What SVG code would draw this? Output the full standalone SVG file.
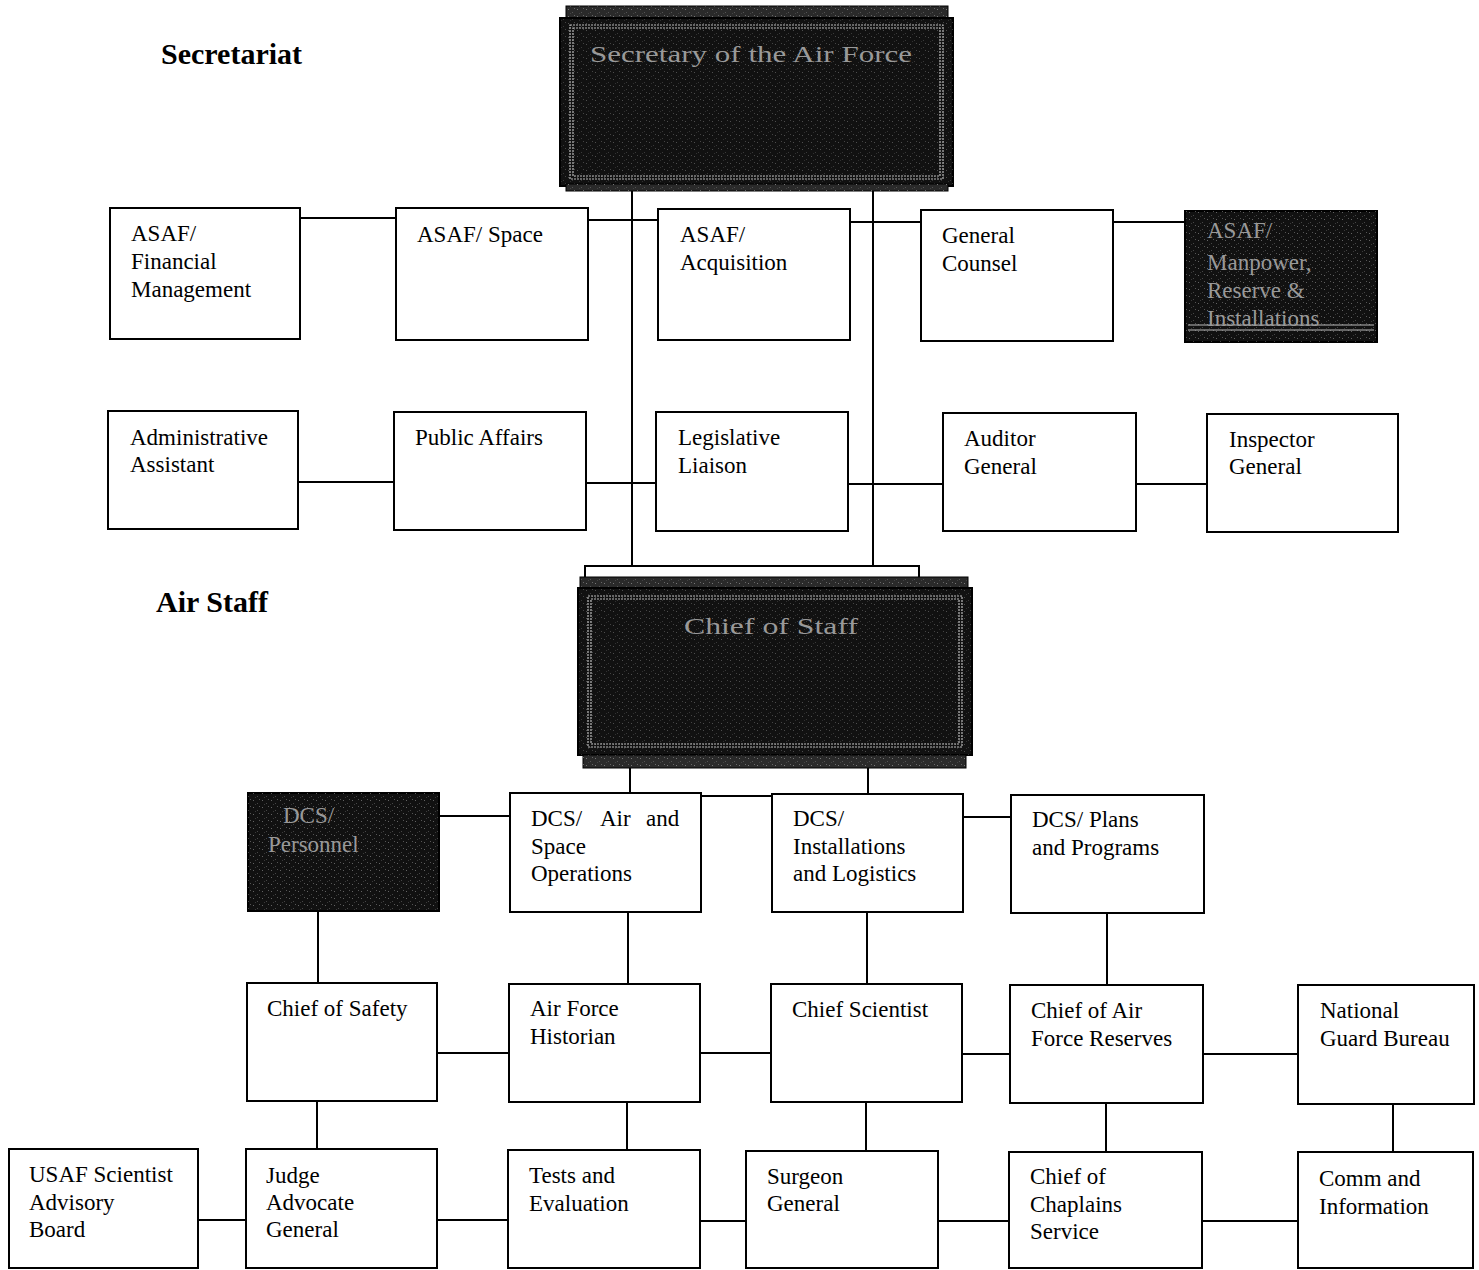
<svg xmlns="http://www.w3.org/2000/svg" width="1479" height="1270" viewBox="0 0 1479 1270">
<style>
.box{fill:#fff;stroke:#000;stroke-width:2}
.t{font-family:"Liberation Serif","Times New Roman",serif;font-size:23px;fill:#000}
.h{font-family:"Liberation Serif","Times New Roman",serif;font-size:30px;font-weight:bold;fill:#000}
.dk{fill:#111;stroke:#000;stroke-width:2}
.grain{fill:url(#grain)}
.stripe{fill:#2a2a2a;stroke:#000;stroke-width:1}
.inner{fill:none;stroke:#bbb;stroke-width:1.2;stroke-dasharray:2 1}
.dt{font-family:"Liberation Serif","Times New Roman",serif;font-size:23px;fill:#999}
.c{fill:none;stroke:#000;stroke-width:2}
</style>
<defs>
<pattern id="grain" width="9" height="7" patternUnits="userSpaceOnUse">
<rect x="1" y="2" width="1" height="1" fill="#777"/>
<rect x="5" y="5" width="1" height="1" fill="#555"/>
<rect x="7" y="1" width="1" height="1" fill="#666"/>
<rect x="3" y="6" width="1" height="1" fill="#444"/>
</pattern>
</defs>
<rect width="1479" height="1270" fill="#fff"/>

<text class="h" x="161" y="64">Secretariat</text>
<text class="h" x="156" y="612">Air Staff</text>

<g id="connectors">
<line class="c" x1="632" y1="190" x2="632" y2="566"/>
<line class="c" x1="873" y1="190" x2="873" y2="566"/>
<line class="c" x1="300" y1="218" x2="396" y2="218"/>
<line class="c" x1="588" y1="220" x2="658" y2="220"/>
<line class="c" x1="850" y1="222" x2="921" y2="222"/>
<line class="c" x1="1113" y1="222" x2="1186" y2="222"/>
<line class="c" x1="298" y1="482" x2="394" y2="482"/>
<line class="c" x1="586" y1="483" x2="656" y2="483"/>
<line class="c" x1="848" y1="484" x2="943" y2="484"/>
<line class="c" x1="1136" y1="484" x2="1207" y2="484"/>
<line class="c" x1="630" y1="767" x2="630" y2="794"/>
<line class="c" x1="868" y1="767" x2="868" y2="795"/>
<line class="c" x1="439" y1="816" x2="510" y2="816"/>
<line class="c" x1="701" y1="796" x2="772" y2="796"/>
<line class="c" x1="963" y1="817" x2="1011" y2="817"/>
<line class="c" x1="318" y1="911" x2="318" y2="983"/>
<line class="c" x1="628" y1="912" x2="628" y2="984"/>
<line class="c" x1="867" y1="912" x2="867" y2="984"/>
<line class="c" x1="1107" y1="913" x2="1107" y2="985"/>
<line class="c" x1="437" y1="1053" x2="509" y2="1053"/>
<line class="c" x1="700" y1="1053" x2="771" y2="1053"/>
<line class="c" x1="962" y1="1054" x2="1010" y2="1054"/>
<line class="c" x1="1203" y1="1054" x2="1298" y2="1054"/>
<line class="c" x1="317" y1="1101" x2="317" y2="1149"/>
<line class="c" x1="627" y1="1102" x2="627" y2="1150"/>
<line class="c" x1="866" y1="1102" x2="866" y2="1151"/>
<line class="c" x1="1106" y1="1103" x2="1106" y2="1152"/>
<line class="c" x1="1393" y1="1104" x2="1393" y2="1152"/>
<line class="c" x1="198" y1="1220" x2="246" y2="1220"/>
<line class="c" x1="437" y1="1220" x2="508" y2="1220"/>
<line class="c" x1="700" y1="1221" x2="746" y2="1221"/>
<line class="c" x1="938" y1="1221" x2="1009" y2="1221"/>
<line class="c" x1="1202" y1="1221" x2="1298" y2="1221"/>
</g>

<g id="secaf">
<rect class="stripe" x="566" y="6" width="382" height="14"/>
<rect class="grain" x="566" y="6" width="382" height="14"/>
<rect class="dk" x="560" y="18" width="393" height="168"/>
<rect class="grain" x="560" y="18" width="393" height="168" opacity="0.6"/>
<rect class="inner" x="570" y="25" width="373" height="154"/>
<rect class="inner" x="573" y="28" width="367" height="148"/>
<rect class="stripe" x="566" y="184" width="382" height="7"/>
<rect class="grain" x="566" y="184" width="382" height="7"/>
<text class="dt" x="590" y="62" font-size="30" textLength="322" lengthAdjust="spacingAndGlyphs">Secretary of the Air Force</text>
</g>

<g id="asaf-fm"><rect class="box" x="110" y="208" width="190" height="131"/>
<text class="t" x="131" y="241">ASAF/</text><text class="t" x="131" y="269">Financial</text><text class="t" x="131" y="297">Management</text></g>
<g id="asaf-space"><rect class="box" x="396" y="208" width="192" height="132"/>
<text class="t" x="417" y="242">ASAF/ Space</text></g>
<g id="asaf-acq"><rect class="box" x="658" y="209" width="192" height="131"/>
<text class="t" x="680" y="242">ASAF/</text><text class="t" x="680" y="270">Acquisition</text></g>
<g id="gen-counsel"><rect class="box" x="921" y="210" width="192" height="131"/>
<text class="t" x="942" y="243">General</text><text class="t" x="942" y="271">Counsel</text></g>
<g id="asaf-mri"><rect class="dk" x="1185" y="211" width="192" height="131"/>
<rect class="grain" x="1185" y="211" width="192" height="131" opacity="0.8"/>
<line x1="1188" y1="325" x2="1374" y2="325" stroke="#bbb" stroke-width="1"/>
<line x1="1188" y1="330" x2="1374" y2="330" stroke="#bbb" stroke-width="1"/>
<text class="dt" x="1207" y="238" font-size="22">ASAF/</text><text class="dt" x="1207" y="270" font-size="22">Manpower,</text><text class="dt" x="1207" y="298" font-size="22">Reserve &amp;</text><text class="dt" x="1207" y="326" font-size="22">Installations</text></g>

<g id="admin-asst"><rect class="box" x="108" y="411" width="190" height="118"/>
<text class="t" x="130" y="445">Administrative</text><text class="t" x="130" y="472">Assistant</text></g>
<g id="public-affairs"><rect class="box" x="394" y="412" width="192" height="118"/>
<text class="t" x="415" y="445">Public Affairs</text></g>
<g id="leg-liaison"><rect class="box" x="656" y="412" width="192" height="119"/>
<text class="t" x="678" y="445">Legislative</text><text class="t" x="678" y="473">Liaison</text></g>
<g id="auditor-general"><rect class="box" x="943" y="413" width="193" height="118"/>
<text class="t" x="964" y="446">Auditor</text><text class="t" x="964" y="474">General</text></g>
<g id="inspector-general"><rect class="box" x="1207" y="414" width="191" height="118"/>
<text class="t" x="1229" y="447">Inspector</text><text class="t" x="1229" y="474">General</text></g>

<g id="csaf">
<rect x="585" y="566" width="334" height="13" fill="#fff" stroke="#000" stroke-width="2"/>
<rect class="stripe" x="580" y="577" width="388" height="12"/>
<rect class="grain" x="580" y="577" width="388" height="12"/>
<rect class="dk" x="578" y="588" width="394" height="167"/>
<rect class="grain" x="578" y="588" width="394" height="167" opacity="0.6"/>
<rect class="inner" x="588" y="596" width="374" height="151"/>
<rect class="inner" x="591" y="599" width="368" height="145"/>
<rect class="stripe" x="583" y="755" width="383" height="13"/>
<rect class="grain" x="583" y="755" width="383" height="13"/>
<text class="dt" x="684" y="634" font-size="28" textLength="174" lengthAdjust="spacingAndGlyphs">Chief of Staff</text>
</g>

<g id="dcs-personnel"><rect class="dk" x="248" y="793" width="191" height="118"/>
<rect class="grain" x="248" y="793" width="191" height="118" opacity="0.8"/>
<text class="dt" x="283" y="823" font-size="21">DCS/</text><text class="dt" x="268" y="852" font-size="21">Personnel</text></g>
<g id="dcs-aso"><rect class="box" x="510" y="793" width="191" height="119"/>
<text class="t" y="826"><tspan x="531">DCS/</tspan><tspan x="600">Air</tspan><tspan x="646">and</tspan></text><text class="t" x="531" y="854">Space</text><text class="t" x="531" y="881">Operations</text></g>
<g id="dcs-il"><rect class="box" x="772" y="794" width="191" height="118"/>
<text class="t" x="793" y="826">DCS/</text><text class="t" x="793" y="854">Installations</text><text class="t" x="793" y="881">and Logistics</text></g>
<g id="dcs-pp"><rect class="box" x="1011" y="795" width="193" height="118"/>
<text class="t" x="1032" y="827">DCS/ Plans</text><text class="t" x="1032" y="855">and Programs</text></g>

<g id="chief-safety"><rect class="box" x="247" y="983" width="190" height="118"/>
<text class="t" x="267" y="1016">Chief of Safety</text></g>
<g id="af-historian"><rect class="box" x="509" y="984" width="191" height="118"/>
<text class="t" x="530" y="1016">Air Force</text><text class="t" x="530" y="1044">Historian</text></g>
<g id="chief-scientist"><rect class="box" x="771" y="984" width="191" height="118"/>
<text class="t" x="792" y="1017">Chief Scientist</text></g>
<g id="chief-afr"><rect class="box" x="1010" y="985" width="193" height="118"/>
<text class="t" x="1031" y="1018">Chief of Air</text><text class="t" x="1031" y="1046">Force Reserves</text></g>
<g id="ngb"><rect class="box" x="1298" y="985" width="176" height="119"/>
<text class="t" x="1320" y="1018">National</text><text class="t" x="1320" y="1046">Guard Bureau</text></g>

<g id="usaf-sab"><rect class="box" x="9" y="1149" width="189" height="119"/>
<text class="t" x="29" y="1182">USAF Scientist</text><text class="t" x="29" y="1210">Advisory</text><text class="t" x="29" y="1237">Board</text></g>
<g id="jag"><rect class="box" x="246" y="1149" width="191" height="119"/>
<text class="t" x="266" y="1183">Judge</text><text class="t" x="266" y="1210">Advocate</text><text class="t" x="266" y="1237">General</text></g>
<g id="test-eval"><rect class="box" x="508" y="1150" width="192" height="118"/>
<text class="t" x="529" y="1183">Tests and</text><text class="t" x="529" y="1211">Evaluation</text></g>
<g id="surgeon-general"><rect class="box" x="746" y="1151" width="192" height="117"/>
<text class="t" x="767" y="1184">Surgeon</text><text class="t" x="767" y="1211">General</text></g>
<g id="chaplains"><rect class="box" x="1009" y="1152" width="193" height="116"/>
<text class="t" x="1030" y="1184">Chief of</text><text class="t" x="1030" y="1212">Chaplains</text><text class="t" x="1030" y="1239">Service</text></g>
<g id="comm-info"><rect class="box" x="1298" y="1152" width="175" height="116"/>
<text class="t" x="1319" y="1186">Comm and</text><text class="t" x="1319" y="1214">Information</text></g>
</svg>
